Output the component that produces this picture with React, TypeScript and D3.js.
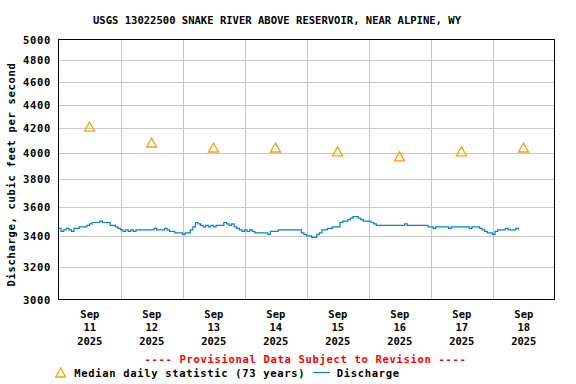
import React from "react";
import * as d3 from "d3";

const TITLE = "USGS 13022500 SNAKE RIVER ABOVE RESERVOIR, NEAR ALPINE, WY";
const Y_LABEL = "Discharge, cubic feet per second";
const PROVISIONAL = "---- Provisional Data Subject to Revision ----";
const LEGEND_MEDIAN = "Median daily statistic (73 years)";
const LEGEND_Q = "Discharge";

const yTicks = [3000, 3200, 3400, 3600, 3800, 4000, 4200, 4400, 4600, 4800, 5000];
const dayLabels = ["11", "12", "13", "14", "15", "16", "17", "18"];
const monthLabel = "Sep";
const yearLabel = "2025";

// median daily statistic, one per day (at noon)
const medianValues = [4210, 4080, 4040, 4040, 4010, 3970, 4010, 4040];

// hourly discharge, cfs
const sep11 = [3450, 3430, 3440, 3450, 3440, 3430, 3450, 3450, 3460, 3460, 3460, 3470, 3480, 3490, 3490, 3490, 3500, 3490, 3490, 3490, 3470, 3470, 3460, 3450];
const sep12 = [3440, 3430, 3440, 3430, 3440, 3430, 3440, 3440, 3440, 3440, 3440, 3440, 3440, 3450, 3440, 3440, 3440, 3450, 3440, 3430, 3430, 3420, 3420, 3420];
const sep13 = [3410, 3420, 3420, 3440, 3460, 3490, 3480, 3470, 3460, 3470, 3460, 3470, 3460, 3470, 3470, 3470, 3490, 3480, 3470, 3480, 3460, 3450, 3440, 3430];
const sep14 = [3440, 3430, 3440, 3430, 3420, 3420, 3420, 3420, 3420, 3410, 3430, 3430, 3430, 3440, 3440, 3440, 3440, 3440, 3440, 3440, 3440, 3440, 3420, 3410];
const sep15 = [3400, 3400, 3390, 3390, 3410, 3420, 3440, 3440, 3450, 3450, 3460, 3460, 3460, 3490, 3500, 3500, 3510, 3520, 3530, 3530, 3520, 3510, 3500, 3500];
const sep16 = [3500, 3490, 3480, 3470, 3470, 3470, 3470, 3470, 3470, 3470, 3470, 3470, 3470, 3470, 3480, 3470, 3470, 3470, 3470, 3470, 3470, 3470, 3470, 3460];
const sep17 = [3460, 3450, 3460, 3460, 3460, 3460, 3460, 3450, 3460, 3460, 3460, 3460, 3460, 3460, 3460, 3450, 3460, 3460, 3460, 3450, 3440, 3430, 3420, 3420];
const sep18 = [3410, 3430, 3440, 3440, 3440, 3450, 3440, 3440, 3440, 3450, 3440];

const dailySeries = [sep11, sep12, sep13, sep14, sep15, sep16, sep17, sep18];

const W = 576;
const H = 384;
const FONT = "'DejaVu Sans Mono', monospace";

export default function App() {
  const start = Date.UTC(2025, 8, 11);
  const HOUR = 3600e3;
  const DAY = 24 * HOUR;
  const x = d3.scaleUtc().domain([new Date(start), new Date(start + 8 * DAY)]).range([58.5, 554.5]);
  const y = d3.scaleLog().domain([3000, 5000]).range([299.5, 39.5]);

  const points: [number, number][] = [];
  dailySeries.forEach((arr, d) => {
    arr.forEach((v, h) => points.push([start + (d * 24 + h) * HOUR, v]));
  });

  const line = d3
    .line<[number, number]>()
    .x((p) => x(new Date(p[0])))
    .y((p) => y(p[1]))
    .curve(d3.curveStepAfter);

  const dayNoon = dayLabels.map((_, i) => new Date(start + i * DAY + 12 * HOUR));
  const dayMid = d3.range(1, 8).map((i) => new Date(start + i * DAY));

  const tri = (cx: number, cy: number) =>
    `M${cx},${cy - 5}L${cx + 5},${cy + 4}L${cx - 5},${cy + 4}Z`;

  const bold = { fontFamily: FONT, fontWeight: 700 as const };

  return (
    <svg width={W} height={H} style={{ position: "absolute", left: 0, top: 0, background: "#fff" }}>
      <rect x={0} y={0} width={W} height={H} fill="#fff" />
      <text x={277} y={24} textAnchor="middle" fontSize={10.5} {...bold} textLength={368} lengthAdjust="spacingAndGlyphs">
        {TITLE}
      </text>

      {/* grid */}
      {yTicks.slice(1, -1).map((t) => (
        <line key={t} x1={58.5} x2={554.5} y1={Math.round(y(t)) + 0.5} y2={Math.round(y(t)) + 0.5} stroke="#c8c8c8" strokeWidth={1} />
      ))}
      {dayMid.map((d, i) => (
        <line key={i} x1={Math.round(x(d)) + 0.5} x2={Math.round(x(d)) + 0.5} y1={39.5} y2={299.5} stroke="#c8c8c8" strokeWidth={1} />
      ))}

      {/* discharge */}
      <path d={line(points) || ""} fill="none" stroke="#0a80d0" strokeWidth={1.2} />

      {/* medians */}
      {medianValues.map((v, i) => (
        <path key={i} d={tri(x(dayNoon[i]), y(v))} fill="none" stroke="#ffa000" strokeWidth={1.3} />
      ))}

      <rect x={58.5} y={39.5} width={496} height={260} fill="none" stroke="#000" strokeWidth={1} />

      {/* y ticks */}
      {yTicks.map((t) => (
        <text key={t} x={51} y={y(t) + 4} textAnchor="end" fontSize={10.5} letterSpacing={0.68} {...bold}>
          {t}
        </text>
      ))}
      <text transform={`translate(15,174.5) rotate(-90)`} textAnchor="middle" fontSize={10.5} letterSpacing={0.68} {...bold}>
        {Y_LABEL}
      </text>

      {/* x ticks */}
      {dayNoon.map((d, i) => (
        <g key={i} transform={`translate(${x(d)},0)`} fontSize={10.5} {...bold} textAnchor="middle">
          <text y={318} x={0.3}>{monthLabel}</text>
          <text y={330.5} x={0.3}>{dayLabels[i]}</text>
          <text y={345} x={0.3}>{yearLabel}</text>
        </g>
      ))}

      {/* legend */}
      <text x={305.5} y={362.5} textAnchor="middle" fontSize={10.5} letterSpacing={0.68} fill="#ff0000" {...bold}>
        {PROVISIONAL}
      </text>
      <path d={tri(60.7, 373)} fill="none" stroke="#ffa000" strokeWidth={1.3} />
      <text x={74.3} y={377} fontSize={10.5} letterSpacing={0.68} {...bold}>
        {LEGEND_MEDIAN}
      </text>
      <line x1={313} x2={330} y1={372.5} y2={372.5} stroke="#0a80d0" strokeWidth={1.2} />
      <text x={336.7} y={377} fontSize={10.5} letterSpacing={0.68} {...bold}>
        {LEGEND_Q}
      </text>
    </svg>
  );
}
